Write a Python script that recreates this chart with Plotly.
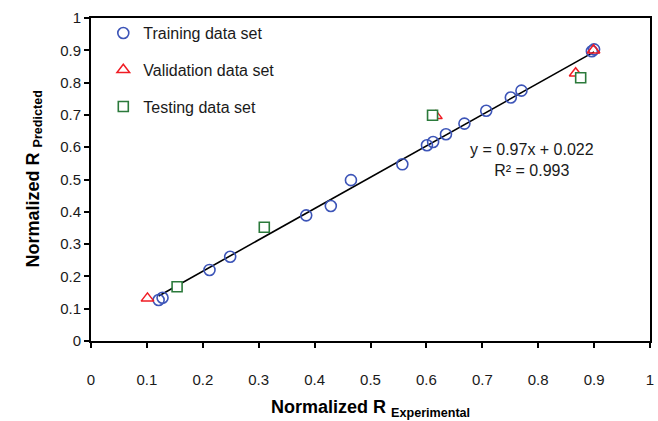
import plotly.graph_objects as go

# Normalized R: experimental (x) vs predicted (y)
train_x = [0.121, 0.128, 0.212, 0.249, 0.385, 0.429, 0.465, 0.557, 0.601, 0.612,
           0.635, 0.668, 0.707, 0.751, 0.770, 0.896, 0.900]
train_y = [0.127, 0.134, 0.220, 0.261, 0.389, 0.418, 0.498, 0.547, 0.606, 0.616,
           0.640, 0.673, 0.713, 0.754, 0.775, 0.897, 0.903]

valid_x = [0.101, 0.617, 0.867, 0.899]
valid_y = [0.132, 0.697, 0.829, 0.900]

test_x = [0.154, 0.310, 0.611, 0.876]
test_y = [0.168, 0.352, 0.699, 0.815]

# Linear trendline of the training set
slope = 0.97
intercept = 0.022
r_squared = 0.993

tick_vals = [0, 0.1, 0.2, 0.3, 0.4, 0.5, 0.6, 0.7, 0.8, 0.9, 1]
tick_text = ["0", "0.1", "0.2", "0.3", "0.4", "0.5", "0.6", "0.7", "0.8", "0.9", "1"]

FONT = "Liberation Sans, Arial, sans-serif"

line_x = [min(train_x), max(train_x)]
line_y = [slope * v + intercept for v in line_x]

fig = go.Figure()

fig.add_trace(go.Scatter(
    x=line_x, y=line_y, mode="lines",
    line=dict(color="black", width=1.6),
    showlegend=False, hoverinfo="skip",
))

fig.add_trace(go.Scatter(
    x=train_x, y=train_y, mode="markers", name="Training data set",
    legendgroup="a",
    marker=dict(symbol="circle-open", size=11, color="#3d55b8",
                line=dict(width=1.6, color="#3d55b8")),
))

fig.add_trace(go.Scatter(
    x=valid_x, y=valid_y, mode="markers", name="Validation data set",
    legendgroup="b",
    marker=dict(symbol="triangle-up-open", size=11, color="#f01c24",
                line=dict(width=1.5, color="#f01c24")),
))

fig.add_trace(go.Scatter(
    x=test_x, y=test_y, mode="markers", name="Testing data set",
    legendgroup="c",
    marker=dict(symbol="square", size=10, color="white",
                line=dict(width=1.6, color="#2b7a3b")),
))

axis_common = dict(
    range=[0, 1],
    tickvals=tick_vals,
    ticktext=tick_text,
    showgrid=False,
    zeroline=False,
    showline=True,
    linecolor="black",
    linewidth=2,
    mirror=True,
    ticks="outside",
    ticklen=5,
    tickwidth=1.5,
    tickcolor="black",
    tickfont=dict(family=FONT, size=15, color="#1a1a1a"),
)

fig.update_xaxes(**axis_common, ticklabelstandoff=19)
fig.update_yaxes(**axis_common, ticklabelstandoff=0)

fig.add_annotation(
    text="<b>Normalized R <sub>Experimental</sub></b>",
    xref="paper", yref="paper", x=0.5, y=0,
    xanchor="center", yanchor="middle", yshift=-67,
    showarrow=False, font=dict(family=FONT, size=18, color="black"),
)
fig.add_annotation(
    text="<b>Normalized R <sub>Predicted</sub></b>",
    xref="paper", yref="paper", x=0, y=0.5,
    xanchor="center", yanchor="middle", xshift=-57,
    textangle=-90,
    showarrow=False, font=dict(family=FONT, size=18, color="black"),
)
fig.add_annotation(
    text=f"y = {slope}x + {intercept}<br>R² = {r_squared}",
    xref="x", yref="y", x=0.789, y=0.561,
    xanchor="center", yanchor="middle", align="center",
    showarrow=False, font=dict(family=FONT, size=16, color="#1a1a1a"),
)

fig.update_layout(
    width=658, height=421,
    margin=dict(l=91, r=4, t=18, b=80),
    paper_bgcolor="white", plot_bgcolor="white",
    legend=dict(
        x=0.022, y=1.006, xanchor="left", yanchor="top",
        bgcolor="rgba(0,0,0,0)",
        font=dict(family=FONT, size=16, color="#1a1a1a"),
        tracegroupgap=13,
    ),
)

fig.write_html("out.html")
